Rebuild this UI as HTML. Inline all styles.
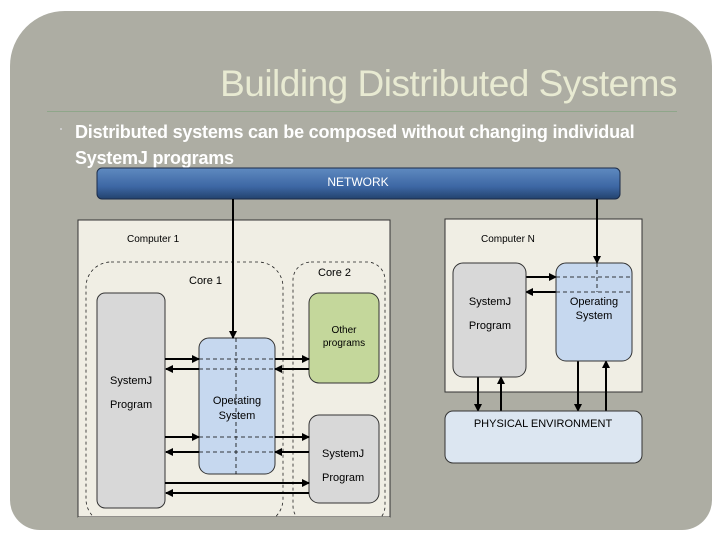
<!DOCTYPE html><html><head><style>
body{margin:0;width:720px;height:540px;background:#fff;position:relative;overflow:hidden;font-family:"Liberation Sans",sans-serif}
.bg{position:absolute;left:10px;top:11px;width:702px;height:519px;background:#adada3;border-radius:55px 55px 30px 30px}
</style></head><body>
<div class="bg"></div>
<div style="position:absolute;left:0;width:677px;top:63px;text-align:right;font-size:37px;color:#e8ead2;letter-spacing:-0.5px">Building Distributed Systems</div>
<div style="position:absolute;left:47px;top:111px;width:630px;height:1px;background:#8fa68a"></div>
<div style="position:absolute;left:60px;top:128px;width:2px;height:2px;background:#ccc"></div>
<div style="position:absolute;left:75px;top:119px;font-size:18px;font-weight:bold;color:#fff;line-height:26px;letter-spacing:-0.2px">Distributed systems can be composed without changing individual<br>SystemJ programs</div>
<svg width="720" height="540" style="position:absolute;left:0;top:0" font-family="Liberation Sans, sans-serif" font-size="11">
<defs>
<linearGradient id="g" x1="0" y1="0" x2="0" y2="1"><stop offset="0" stop-color="#5f8ac0"/><stop offset="0.6" stop-color="#3d67a4"/><stop offset="1" stop-color="#23426e"/></linearGradient>
<marker id="a" markerWidth="8" markerHeight="8" refX="7" refY="4" orient="auto" markerUnits="userSpaceOnUse"><path d="M0,0 L8,4 L0,8 z" fill="#000"/></marker>
</defs>
<rect x="97" y="168" width="523" height="31" rx="5" fill="url(#g)" stroke="#1c2c48"/>
<text x="358" y="186" fill="#fff" text-anchor="middle" font-size="12">NETWORK</text>
<rect x="78" y="220" width="312" height="297" fill="#f0eee4" stroke="#333"/>
<rect x="445" y="219" width="197" height="173" fill="#f0eee4" stroke="#333"/>
<text x="127" y="242" font-size="10">Computer 1</text>
<text x="481" y="242" font-size="10">Computer N</text>
<rect x="86" y="262" width="197" height="262" rx="25" fill="none" stroke="#222" stroke-dasharray="3,3" stroke-width="0.8"/>
<rect x="293" y="262" width="92" height="262" rx="18" fill="none" stroke="#222" stroke-dasharray="3,3" stroke-width="0.8"/>
<rect x="78" y="517" width="312" height="10" fill="#adada3"/>
<text x="189" y="284">Core 1</text><text x="318" y="276">Core 2</text>
<rect x="97" y="293" width="68" height="215" rx="8" fill="#d8d8d8" stroke="#333"/>
<text x="110" y="384">SystemJ</text><text x="110" y="408">Program</text>
<rect x="199" y="338" width="76" height="136" rx="10" fill="#c6d8ef" stroke="#333"/>
<text x="237" y="404" text-anchor="middle">Operating</text><text x="237" y="419" text-anchor="middle">System</text>
<rect x="309" y="293" width="70" height="90" rx="10" fill="#c4d79b" stroke="#333"/>
<text x="344" y="333" text-anchor="middle" font-size="10">Other</text><text x="344" y="346" text-anchor="middle" font-size="10">programs</text>
<rect x="309" y="415" width="70" height="88" rx="10" fill="#d8d8d8" stroke="#333"/>
<text x="322" y="457">SystemJ</text><text x="322" y="481">Program</text>
<g stroke="#000" stroke-dasharray="4,3" stroke-width="0.8" fill="none">
<path d="M236 338V474M199 359H275M199 369H275M199 437H275M199 452H275"/>
</g>
<g stroke="#000" stroke-width="2" fill="none" marker-end="url(#a)">
<path d="M233 199V338"/>
<path d="M165 359H199"/><path d="M199 369H166"/>
<path d="M275 359H309"/><path d="M309 369H275"/>
<path d="M165 437H199"/><path d="M199 452H166"/>
<path d="M275 437H309"/><path d="M309 452H275"/>
<path d="M165 483H309"/><path d="M309 493H166"/>
<path d="M597 199V263"/>
<path d="M526 277H556"/><path d="M556 292H526"/>
<path d="M478 377V411"/><path d="M501 411V377"/>
<path d="M578 361V411"/><path d="M606 411V361"/>
</g>
<rect x="453" y="263" width="73" height="114" rx="10" fill="#d8d8d8" stroke="#333"/>
<text x="490" y="305" text-anchor="middle">SystemJ</text><text x="490" y="329" text-anchor="middle">Program</text>
<rect x="556" y="263" width="76" height="98" rx="10" fill="#c6d8ef" stroke="#333"/>
<path d="M597 263V292M556 277H632M556 292H632" stroke="#000" stroke-dasharray="4,3" stroke-width="0.8"/>
<text x="594" y="305" text-anchor="middle">Operating</text><text x="594" y="319" text-anchor="middle">System</text>
<rect x="445" y="411" width="197" height="52" rx="8" fill="#dce6f1" stroke="#333"/>
<text x="543" y="427" text-anchor="middle">PHYSICAL ENVIRONMENT</text>
</svg>
</body></html>
